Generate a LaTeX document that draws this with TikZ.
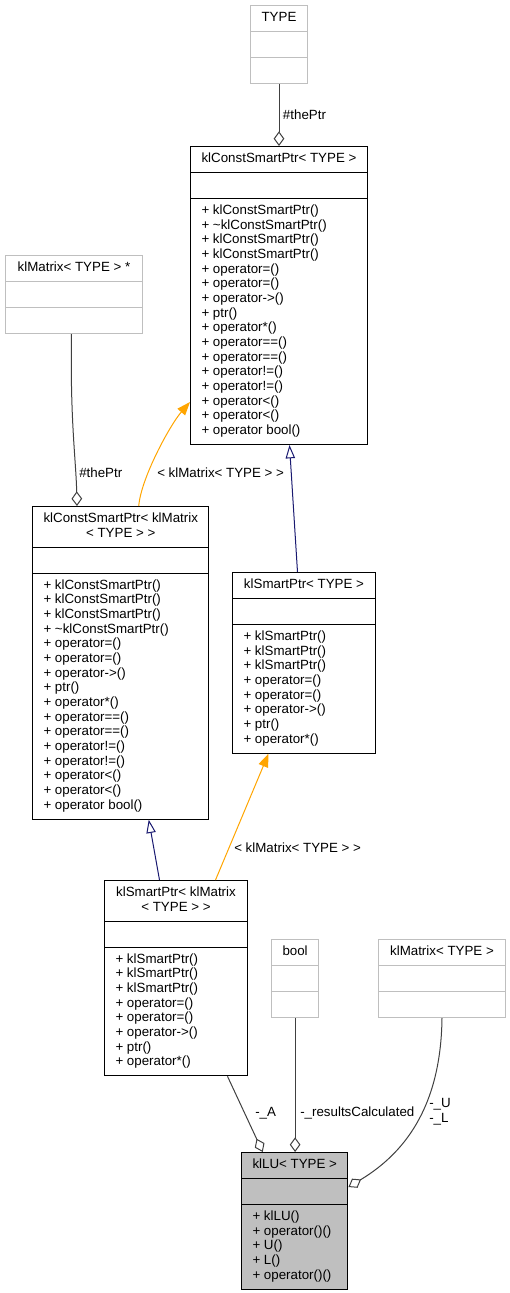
\documentclass[tikz,border=0pt]{standalone}
\usepackage{fontspec}
\setmainfont{Liberation Sans}
\usepackage{xcolor}
\usepackage{tikz}
\usetikzlibrary{shapes.multipart, arrows.meta, calc, positioning}

\definecolor{inhblue}{HTML}{191970}
\definecolor{tmplorange}{HTML}{FFA500}
\definecolor{edgegray}{HTML}{404040}
\definecolor{extgray}{HTML}{BFBFBF}

\newcommand{\ctitle}[1]{\begin{tabular}{@{}c@{}}#1\end{tabular}}
\newcommand{\cops}[1]{\begin{tabular}{@{}l@{}}#1\end{tabular}}

\begin{document}
\begin{tikzpicture}[
      x=0.75pt, y=-0.75pt,
      every node/.style={font=\fontsize{10}{11}\selectfont},
      cls/.style={rectangle split, rectangle split parts=3, draw=black, fill=white,
        line width=0.75pt, inner xsep=8.25pt, inner ysep=3.875pt, anchor=north west,
        rectangle split part align={center,left,left},
        rectangle split empty part height=7.7pt, rectangle split empty part depth=3.3pt},
      ext/.style={cls, draw=extgray},
      cur/.style={cls, fill=extgray},
      agg/.style={draw=edgegray, line width=0.75pt, -{Diamond[open, length=11pt, width=8pt]}},
      inh/.style={draw=inhblue, line width=0.75pt, -{Triangle[open, length=10pt, width=7pt]}},
      tmpl/.style={draw=tmplorange, line width=0.75pt, -{Triangle[length=10pt, width=7.5pt]}},
      lbl/.style={inner sep=0pt, anchor=west},
    ]

    \useasboundingbox (0,0) rectangle (510,1293);

    \node[ext, minimum width=42.75pt] (type) at (250,5) {\ctitle{TYPE}\nodepart{two}\nodepart{three}};
    \node[cls, minimum width=132.75pt] (cst) at (190,146) {\ctitle{klConstSmartPtr< TYPE >}\nodepart{two}\nodepart{three}\cops{
      + klConstSmartPtr()\\ + \textasciitilde klConstSmartPtr()\\ + klConstSmartPtr()\\ + klConstSmartPtr()\\
      + operator=()\\ + operator=()\\ + operator->()\\ + ptr()\\ + operator*()\\
      + operator==()\\ + operator==()\\ + operator!=()\\ + operator!=()\\
      + operator<()\\ + operator<()\\ + operator bool()}};
    \node[ext, minimum width=102.75pt] (kmptr) at (5,255) {\ctitle{klMatrix< TYPE > *}\nodepart{two}\nodepart{three}};
    \node[cls, minimum width=132pt] (cskm) at (32,506) {\ctitle{klConstSmartPtr< klMatrix\\< TYPE > >}\nodepart{two}\nodepart{three}\cops{
      + klConstSmartPtr()\\ + klConstSmartPtr()\\ + klConstSmartPtr()\\ + \textasciitilde klConstSmartPtr()\\
      + operator=()\\ + operator=()\\ + operator->()\\ + ptr()\\ + operator*()\\
      + operator==()\\ + operator==()\\ + operator!=()\\ + operator!=()\\
      + operator<()\\ + operator<()\\ + operator bool()}};
    \node[cls, minimum width=107.25pt] (sp) at (232,572) {\ctitle{klSmartPtr< TYPE >}\nodepart{two}\nodepart{three}\cops{
      + klSmartPtr()\\ + klSmartPtr()\\ + klSmartPtr()\\ + operator=()\\ + operator=()\\
      + operator->()\\ + ptr()\\ + operator*()}};
    \node[cls, minimum width=107.25pt] (spkm) at (104,880) {\ctitle{klSmartPtr< klMatrix\\< TYPE > >}\nodepart{two}\nodepart{three}\cops{
      + klSmartPtr()\\ + klSmartPtr()\\ + klSmartPtr()\\ + operator=()\\ + operator=()\\
      + operator->()\\ + ptr()\\ + operator*()}};
    \node[ext, minimum width=35.25pt] (bool) at (271,939) {\ctitle{bool}\nodepart{two}\nodepart{three}};
    \node[ext, minimum width=95.25pt] (mat) at (378,939) {\ctitle{klMatrix< TYPE >}\nodepart{two}\nodepart{three}};
    \node[cur, minimum width=79.5pt] (lu) at (241,1152) {\ctitle{klLU< TYPE >}\nodepart{two}\nodepart{three}\cops{
      + klLU()\\ + operator()()\\ + U()\\ + L()\\ + operator()()}};

    \draw[agg] (type.south) -- (cst.north) node[lbl, midway, right=2.6pt] (lptr1) {\#thePtr};
    \draw[agg] ($(kmptr.south)+(-2.5,0)$) .. controls (70,420) and (76,460) .. ($(cskm.north west)+(45,0)$);
    \node[lbl] (lptr2) at (79,473) {\#thePtr};

    \draw[tmpl] ($(cskm.north)+(18,0)$) .. controls (141,478) and (170,425) .. ($(cst.south west)+(0,-43)$);
    \node[lbl] (ltmpl1) at (157,473) {< klMatrix< TYPE > >};
    \draw[inh] ($(sp.north)+(-6.5,0)$) -- ($(cst.south)+(10.5,0)$);
    \draw[inh] ($(spkm.north)+(-16.5,0)$) -- ($(cskm.south)+(28,0)$);
    \draw[tmpl] ($(spkm.north)+(39.5,0)$) -- ($(sp.south)+(-35.5,0)$);
    \node[lbl] (ltmpl2) at (234,848) {< klMatrix< TYPE > >};

    \draw[agg] ($(spkm.south)+(51.5,0)$) -- ($(lu.north)+(-32,0)$);
    \node[lbl] (la) at (255,1113) {-\_A};
    \draw[agg] (bool.south) -- (bool.south |- lu.north);
    \node[lbl] (lres) at (300,1113) {-\_resultsCalculated};
    \draw[agg] (mat.south) .. controls (441,1100) and (410,1150) .. ($(lu.north east)+(0,35)$);
    \node[lbl, align=left] (lul) at (429,1112) {-\_U\\-\_L};

  \end{tikzpicture}
\end{document}
